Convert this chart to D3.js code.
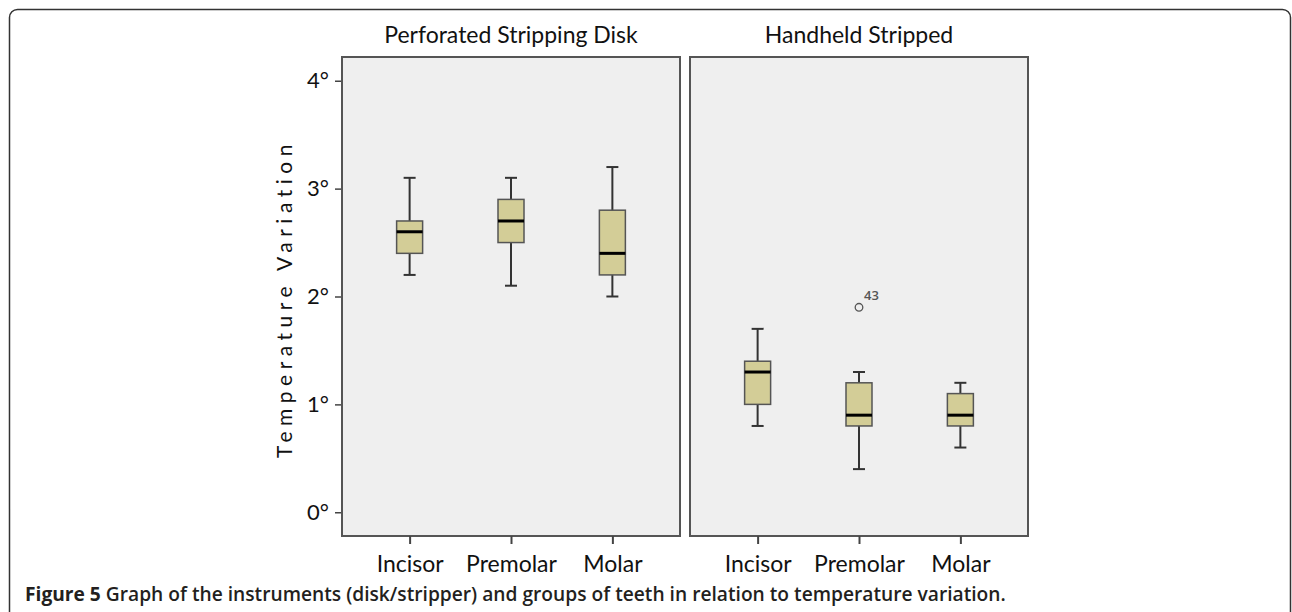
<!DOCTYPE html>
<html>
<head>
<meta charset="utf-8">
<script src="https://cdn.jsdelivr.net/npm/d3@7"></script>
<style>
  body { margin: 0; background: #fff; }
  svg { display: block; }
</style>
</head>
<body>
<div id="chart"></div>
<script>
// data
const instruments = ["Perforated Stripping Disk", "Handheld Stripped"];
const teeth = ["Incisor", "Premolar", "Molar"];
const whiskerLow = [[2.2, 2.1, 2.0], [0.8, 0.4, 0.6]];
const q1 = [[2.4, 2.5, 2.2], [1.0, 0.8, 0.8]];
const median = [[2.6, 2.7, 2.4], [1.3, 0.9, 0.9]];
const q3 = [[2.7, 2.9, 2.8], [1.4, 1.2, 1.1]];
const whiskerHigh = [[3.1, 3.1, 3.2], [1.7, 1.3, 1.2]];
const outliers = [{ instrument: 1, tooth: "Premolar", value: 1.9, label: "43" }];
const yTicks = [0, 1, 2, 3, 4];
const yTickLabels = ["0°", "1°", "2°", "3°", "4°"];

const width = 1292;
const height = 612;
const panelTop = 57;
const panelBottom = 536;
const panelLeft = [342, 690];
const panelWidth = 338;
const boxWidth = 26;
const capWidth = 12;

const titleFont = "Lato, 'Open Sans', sans-serif";
const captionFont = "'Open Sans', 'Noto Sans', sans-serif";

const svg = d3.select("#chart").append("svg")
  .attr("width", width)
  .attr("height", height);

// outer frame with rounded corners
svg.append("rect")
  .attr("x", 9.5)
  .attr("y", 9.5)
  .attr("width", 1281)
  .attr("height", 640)
  .attr("rx", 8)
  .attr("fill", "none")
  .attr("stroke", "#333")
  .attr("stroke-width", 1.5);

const y = d3.scaleLinear().domain([-0.22, 4.22]).range([panelBottom, panelTop]);

function drawPanel(g, i, x) {
  g.append("rect")
    .attr("x", 0)
    .attr("y", panelTop)
    .attr("width", panelWidth)
    .attr("height", panelBottom - panelTop)
    .attr("fill", "#efefef")
    .attr("stroke", "#555")
    .attr("stroke-width", 2);

  g.append("text")
    .attr("x", panelWidth / 2)
    .attr("y", 43)
    .attr("text-anchor", "middle")
    .attr("font-family", titleFont)
    .attr("font-size", 23)
    .attr("fill", "#111")
    .text(instruments[i]);

  const xAxis = g.append("g")
    .attr("transform", `translate(0,${panelBottom})`)
    .call(d3.axisBottom(x).tickSize(8).tickPadding(12));
  xAxis.select(".domain").remove();
  xAxis.selectAll("line").attr("stroke", "#444").attr("stroke-width", 2);
  xAxis.selectAll("text")
    .attr("font-family", titleFont)
    .attr("font-size", 23)
    .attr("fill", "#111");
}

function drawBox(g, i, x) {
  const boxes = g.selectAll(".box")
    .data(teeth.map((t, j) => ({
      tooth: t,
      low: whiskerLow[i][j],
      q1: q1[i][j],
      med: median[i][j],
      q3: q3[i][j],
      high: whiskerHigh[i][j]
    })))
    .join("g")
    .attr("class", "box")
    .attr("transform", (d) => `translate(${x(d.tooth)},0)`);

  boxes.append("line")
    .attr("y1", (d) => y(d.low))
    .attr("y2", (d) => y(d.high))
    .attr("stroke", "#333")
    .attr("stroke-width", 2);

  boxes.selectAll(".cap")
    .data((d) => [d.low, d.high])
    .join("line")
    .attr("class", "cap")
    .attr("x1", -capWidth / 2)
    .attr("x2", capWidth / 2)
    .attr("y1", (v) => y(v))
    .attr("y2", (v) => y(v))
    .attr("stroke", "#333")
    .attr("stroke-width", 2);

  boxes.append("rect")
    .attr("x", -boxWidth / 2)
    .attr("width", boxWidth)
    .attr("y", (d) => y(d.q3))
    .attr("height", (d) => y(d.q1) - y(d.q3))
    .attr("fill", "#d3cd97")
    .attr("stroke", "#555")
    .attr("stroke-width", 1.5);

  boxes.append("line")
    .attr("x1", -boxWidth / 2)
    .attr("x2", boxWidth / 2)
    .attr("y1", (d) => y(d.med))
    .attr("y2", (d) => y(d.med))
    .attr("stroke", "#000")
    .attr("stroke-width", 3);

  const pts = outliers.filter((o) => o.instrument === i);
  g.selectAll(".outlier")
    .data(pts)
    .join("circle")
    .attr("class", "outlier")
    .attr("cx", (d) => x(d.tooth))
    .attr("cy", (d) => y(d.value))
    .attr("r", 3.8)
    .attr("fill", "none")
    .attr("stroke", "#555")
    .attr("stroke-width", 1.3);
  g.selectAll(".outlier-label")
    .data(pts)
    .join("text")
    .attr("class", "outlier-label")
    .attr("x", (d) => x(d.tooth) + 5)
    .attr("y", (d) => y(d.value) - 7)
    .attr("font-family", captionFont)
    .attr("font-size", 13)
    .attr("font-weight", 600)
    .attr("fill", "#555")
    .text((d) => d.label);
}

instruments.forEach((name, i) => {
  const g = svg.append("g").attr("transform", `translate(${panelLeft[i]},0)`);
  const x = d3.scalePoint().domain(teeth).range([0, panelWidth]).padding(0.667);
  drawPanel(g, i, x);
  drawBox(g, i, x);
});

// y axis on the left panel
const yAxis = svg.append("g")
  .attr("transform", `translate(${panelLeft[0] - 1},0)`)
  .call(d3.axisLeft(y).tickValues(yTicks).tickFormat((d, k) => yTickLabels[k]).tickSize(6).tickPadding(6));
yAxis.select(".domain").remove();
yAxis.selectAll("line").attr("stroke", "#444").attr("stroke-width", 1.5);
yAxis.selectAll("text")
  .attr("font-family", titleFont)
  .attr("font-size", 22)
  .attr("fill", "#111");

svg.append("text")
  .attr("transform", `translate(292,${(y(0) + y(4)) / 2 + 2}) rotate(-90)`)
  .attr("text-anchor", "middle")
  .attr("font-family", titleFont)
  .attr("font-size", 21)
  .attr("letter-spacing", 5.5)
  .attr("fill", "#111")
  .text("Temperature Variation");

// caption
const caption = svg.append("text")
  .attr("x", 25)
  .attr("y", 601)
  .attr("font-family", captionFont)
  .attr("font-size", 19.2)
  .attr("fill", "#231f20");
caption.append("tspan").attr("font-weight", "bold").text("Figure 5");
caption.append("tspan")
  .attr("font-weight", 600)
  .text(" Graph of the instruments (disk/stripper) and groups of teeth in relation to temperature variation.");
</script>
</body>
</html>
